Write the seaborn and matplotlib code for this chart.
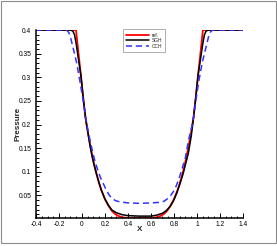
import numpy as np
import pandas as pd
import matplotlib
matplotlib.use("Agg")
import matplotlib.pyplot as plt
from matplotlib.patches import Rectangle
from matplotlib.ticker import MultipleLocator, FuncFormatter
import seaborn as sns

# reference (exact) solution
x_ref = [-0.4, -0.052, -0.03, -0.01, 0.01, 0.03, 0.05, 0.07, 0.09, 0.11, 0.13, 0.15, 0.17, 0.2,
         0.23, 0.26, 0.29, 0.32, 0.36, 0.42, 0.5, 0.58, 0.64, 0.68, 0.71, 0.74, 0.77, 0.8,
         0.83, 0.85, 0.87, 0.89, 0.91, 0.93, 0.95, 0.97, 0.99, 1.01, 1.03, 1.052, 1.4]
p_ref = [0.4, 0.4, 0.35, 0.305, 0.258, 0.215, 0.185, 0.158, 0.133, 0.111, 0.092, 0.075, 0.06, 0.042,
         0.028, 0.017, 0.01, 0.006, 0.003, 0.002, 0.002, 0.002, 0.003, 0.006, 0.01, 0.017, 0.028, 0.042,
         0.06, 0.075, 0.092, 0.111, 0.133, 0.158, 0.185, 0.215, 0.258, 0.305, 0.35, 0.4, 0.4]

# SGH scheme
x_sgh = [-0.4, -0.1, -0.08, -0.065, -0.05, -0.035, -0.01, 0.01, 0.03, 0.05, 0.07, 0.09, 0.11, 0.13,
         0.15, 0.17, 0.2, 0.23, 0.26, 0.3, 0.35, 0.4, 0.5,
         0.6, 0.65, 0.7, 0.735, 0.765, 0.795, 0.823, 0.85, 0.88, 0.905, 0.925, 0.95, 0.968, 0.99,
         1.01, 1.035, 1.05, 1.065, 1.08, 1.1, 1.4]
p_sgh = [0.4, 0.4, 0.398, 0.39, 0.37, 0.345, 0.305, 0.258, 0.215, 0.185, 0.155, 0.13, 0.11, 0.092,
         0.075, 0.06, 0.042, 0.029, 0.019, 0.013, 0.009, 0.007, 0.006,
         0.006, 0.008, 0.012, 0.018, 0.026, 0.038, 0.054, 0.073, 0.096, 0.12, 0.139, 0.175, 0.21, 0.258,
         0.305, 0.345, 0.37, 0.39, 0.398, 0.4, 0.4]

# CCH scheme
x_cch = [-0.4, -0.135, -0.115, -0.1, -0.085, -0.065, -0.046, -0.017, 0.011, 0.035, 0.06, 0.085, 0.11,
         0.135, 0.16, 0.185, 0.21, 0.235, 0.26, 0.29, 0.33, 0.4, 0.5,
         0.6, 0.67, 0.71, 0.74, 0.77, 0.795, 0.82, 0.85, 0.875, 0.9, 0.925, 0.95, 0.968, 0.99,
         1.015, 1.045, 1.065, 1.085, 1.1, 1.115, 1.135, 1.4]
p_cch = [0.4, 0.4, 0.395, 0.385, 0.37, 0.35, 0.33, 0.29, 0.25, 0.21, 0.178, 0.15, 0.125,
         0.105, 0.088, 0.075, 0.062, 0.051, 0.044, 0.039, 0.036, 0.034, 0.033,
         0.034, 0.035, 0.037, 0.042, 0.049, 0.058, 0.07, 0.09, 0.11, 0.13, 0.165, 0.19, 0.21, 0.25,
         0.29, 0.33, 0.35, 0.37, 0.385, 0.395, 0.4, 0.4]

sns.set_style("ticks")
plt.rcParams['font.family'] = ['Liberation Sans', 'DejaVu Sans']

fig = plt.figure(figsize=(2.77, 2.46), dpi=100)
ax = fig.add_axes([0.130, 0.1138, 0.747, 0.764])

sns.lineplot(x=x_ref, y=p_ref, ax=ax, color='#ff0000', lw=1.3, sort=False, label='ref.')
sns.lineplot(x=x_sgh, y=p_sgh, ax=ax, color='black', lw=1.1, sort=False, label='SGH')
sns.lineplot(x=x_cch, y=p_cch, ax=ax, color='#3333ff', lw=1.1, sort=False, label='CCH',
             dashes=False, linestyle=(0, (4, 2.5)))

ax.set_xlim(-0.4, 1.4)
ax.set_ylim(0.002, 0.4)
ax.xaxis.set_major_locator(MultipleLocator(0.2))
ax.xaxis.set_minor_locator(MultipleLocator(0.05))
ax.yaxis.set_major_locator(MultipleLocator(0.05))
ax.yaxis.set_minor_locator(MultipleLocator(0.01))
fmt = FuncFormatter(lambda v, pos: '%g' % round(v, 3))
ax.xaxis.set_major_formatter(fmt)
ax.yaxis.set_major_formatter(fmt)

for s in ['top', 'right']:
    ax.spines[s].set_visible(False)
for s in ['left', 'bottom']:
    ax.spines[s].set_linewidth(1.1)
    ax.spines[s].set_color('black')
ax.tick_params(which='both', direction='in', colors='black', labelsize=4.8, width=0.7)
ax.tick_params(which='major', length=3.6)
ax.tick_params(which='minor', length=1.8)
ax.tick_params(axis='y', pad=3.5)
ax.tick_params(axis='x', pad=2)

ax.set_xlabel('X', fontsize=5.8, fontweight='bold')
ax.set_ylabel('Pressure', fontsize=5.8, fontweight='bold')
ax.xaxis.set_label_coords(0.502, -0.045)
ax.yaxis.set_label_coords(-0.07, 0.5)

leg = ax.legend(loc='upper left', bbox_to_anchor=(0.419, 1.004), fontsize=3.5,
                handlelength=4.7, handletextpad=0.5, labelspacing=0.1, borderpad=0.7,
                borderaxespad=0, fancybox=False, frameon=True)
leg.get_frame().set_edgecolor('0.6')
leg.get_frame().set_linewidth(0.7)

fig.patches.append(Rectangle((0.0036, 0.011), 0.9917, 0.985, transform=fig.transFigure,
                             fill=False, edgecolor='0.55', lw=0.8))

fig.savefig('out.png', dpi=100)
